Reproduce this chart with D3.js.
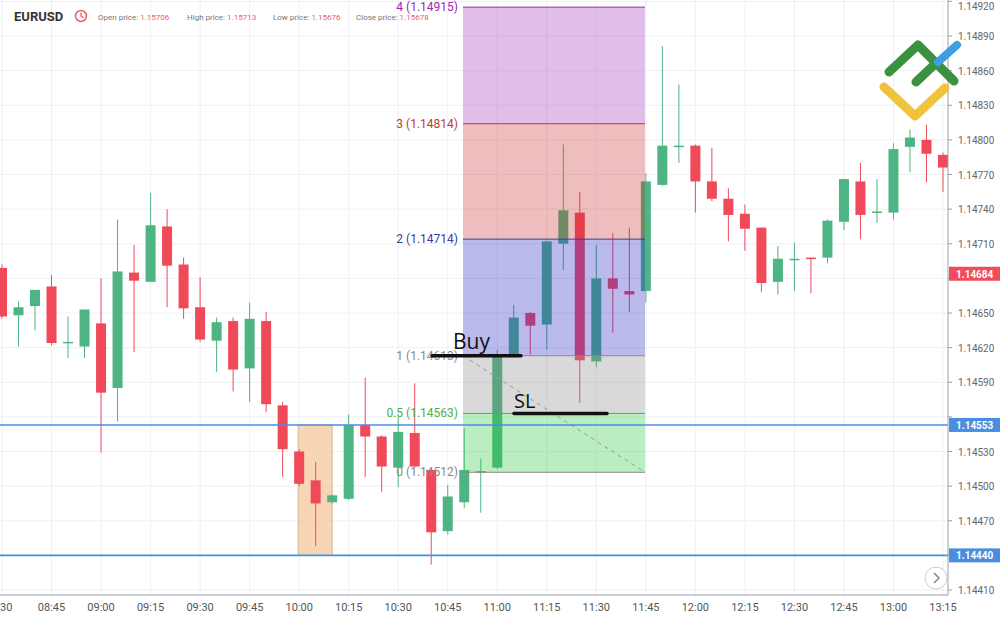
<!DOCTYPE html><html><head><meta charset="utf-8"><script src="https://cdn.jsdelivr.net/npm/d3@7"></script>
<style>body{margin:0;background:#fff}svg{font-family:Roboto,"Noto Sans",sans-serif}</style></head><body><svg id="c" width="1000" height="618"></svg>
<script>
// OHLC in 1e-5 units above 1.14 (i.e. 689 -> 1.14689); 5-minute candles from 08:30
const opens =[689,648,656,673,624,621,641,585,685,677,725,692,655,626,643,602,643,570,530,505,486,489,553,543,516,546,514,461,486,512,516,613,650,640,710,737,608,680,669,669,761,794,795,764,749,736,724,677,697,698,698,729,764,738,737,794,800,787];
const highs =[692,660,670,683,647,653,680,731,709,754,740,698,681,646,646,659,651,573,532,521,493,562,594,544,560,589,515,501,550,524,618,657,651,712,796,755,709,719,724,771,881,848,796,793,758,744,724,708,711,698,731,766,780,766,797,809,813,789];
const lows  =[645,621,635,622,611,611,529,556,616,677,655,645,625,599,582,573,564,508,500,448,485,488,508,495,499,516,432,458,481,477,515,613,614,618,687,572,603,633,651,659,760,780,737,747,712,704,668,666,669,667,693,722,714,728,731,772,763,755];
const closes=[647,655,670,624,625,653,581,686,678,726,691,654,627,642,601,645,571,532,502,485,492,553,543,517,547,517,460,491,514,513,612,646,639,712,739,609,680,671,666,764,795,795,764,749,735,723,676,697,697,697,730,766,735,738,792,802,788,776];
const yTicks=[1.14920,1.14890,1.14860,1.14830,1.14800,1.14770,1.14740,1.14710,1.14650,1.14620,1.14590,1.14530,1.14500,1.14470,1.14410];
const timeLabels=["30","08:45","09:00","09:15","09:30","09:45","10:00","10:15","10:30","10:45","11:00","11:15","11:30","11:45","12:00","12:15","12:30","12:45","13:00","13:15"];
const levels=[{k:"4",p:1.14915,c:"#9c27b0"},{k:"3",p:1.14814,c:"#c0392b"},{k:"2",p:1.14714,c:"#3b3b9a"},{k:"1",p:1.14613,c:"#888"},{k:"0.5",p:1.14563,c:"#4caf50"},{k:"0",p:1.14512,c:"#888"}];
const zoneFills=[{c:"#9c27b0",o:0.3},{c:"#c62828",o:0.3},{c:"#2828c8",o:0.32},{c:"#808080",o:0.3},{c:"#2ecc40",o:0.33}];
const hLines=[1.14553,1.14440];
const lastPrice=1.14684;

const svg=d3.select("#c");
const y=d3.scaleLinear().domain([1.14650,1.14890]).range([313,36]);
const x=d3.scaleLinear().domain([0,57]).range([2,943]);
const P=v=>1.14+v/1e5;
const axisX=948;
const gridTicks=yTicks.concat([1.14680,1.14560,1.14440]);
svg.append("g").selectAll("line").data(gridTicks).join("line").attr("x1",0).attr("x2",axisX).attr("y1",d=>y(d)).attr("y2",d=>y(d)).attr("stroke","#eef0f5");
svg.append("g").selectAll("line").data(timeLabels).join("line").attr("x1",(d,i)=>x(i*3)).attr("x2",(d,i)=>x(i*3)).attr("y1",0).attr("y2",595).attr("stroke","#eef0f5");
svg.append("rect").attr("x",x(18)-1).attr("width",x(20)-x(18)+1).attr("y",y(1.14553)).attr("height",y(1.14440)-y(1.14553)).attr("fill","#f6c89c").attr("opacity",0.75).attr("stroke","#c9a27a").attr("stroke-width",1);
const idx=d3.range(opens.length);
const g=svg.append("g");
idx.forEach(i=>{
  const up=closes[i]>=opens[i], col=up?"#4db483":"#f04a5a";
  g.append("line").attr("x1",x(i)).attr("x2",x(i)).attr("y1",y(P(highs[i]))).attr("y2",y(P(lows[i]))).attr("stroke",col).attr("stroke-width",1);
  const t=y(P(Math.max(opens[i],closes[i]))),b=y(P(Math.min(opens[i],closes[i])));
  g.append("rect").attr("x",x(i)-5).attr("width",10).attr("y",t).attr("height",Math.max(1.5,b-t)).attr("fill",col);
});
const zx0=463,zx1=645;
zoneFills.forEach((z,i)=>{
  svg.append("rect").attr("x",zx0).attr("width",zx1-zx0).attr("y",y(levels[i].p)).attr("height",y(levels[i+1].p)-y(levels[i].p)).attr("fill",z.c).attr("opacity",z.o);
});
levels.forEach(l=>{
  svg.append("line").attr("x1",zx0).attr("x2",zx1).attr("y1",y(l.p)).attr("y2",y(l.p)).attr("stroke",l.c).attr("stroke-width",1);
  svg.append("text").attr("x",458).attr("y",y(l.p)+4).attr("text-anchor","end").attr("font-size",12).attr("fill",l.c).text(`${l.k} (${l.p.toFixed(5)})`);
});
svg.append("line").attr("x1",zx0).attr("y1",y(1.14613)).attr("x2",zx1).attr("y2",y(1.14512)).attr("stroke","#999").attr("stroke-dasharray","4,4");
hLines.forEach(h=>{
  svg.append("line").attr("x1",0).attr("x2",axisX).attr("y1",y(h)).attr("y2",y(h)).attr("stroke","#4a8ee0").attr("stroke-width",1.6);
});
svg.append("line").attr("x1",432).attr("x2",521).attr("y1",y(1.14613)).attr("y2",y(1.14613)).attr("stroke","#111").attr("stroke-width",3.5).attr("stroke-linecap","round");
svg.append("text").attr("x",453).attr("y",y(1.14613)-7).attr("font-size",21).attr("font-family","Open Sans").attr("fill","#111").text("Buy");
svg.append("line").attr("x1",514).attr("x2",607).attr("y1",y(1.14563)).attr("y2",y(1.14563)).attr("stroke","#111").attr("stroke-width",3.5).attr("stroke-linecap","round");
svg.append("text").attr("x",514).attr("y",y(1.14563)-5).attr("font-size",20).attr("font-family","Open Sans").attr("fill","#111").text("SL");
svg.append("rect").attr("x",axisX).attr("y",0).attr("width",52).attr("height",618).attr("fill","#fff");
svg.append("line").attr("x1",axisX).attr("x2",axisX).attr("y1",0).attr("y2",595).attr("stroke","#9aa0aa");
svg.append("g").selectAll("text").data(yTicks).join("text").attr("x",958).attr("y",d=>Math.max(10,y(d)+4)).attr("font-size",10).attr("fill","#666").text(d=>d.toFixed(5));
svg.append("g").selectAll("line").data(gridTicks).join("line").attr("x1",axisX).attr("x2",axisX+4).attr("y1",d=>y(d)).attr("y2",d=>y(d)).attr("stroke","#9aa0aa");
function badge(v,col){
  svg.append("rect").attr("x",axisX+1).attr("y",y(v)-7).attr("width",52).attr("height",14).attr("fill",col);
  svg.append("text").attr("x",956).attr("y",y(v)+4).attr("font-size",10).attr("font-weight","bold").attr("fill","#fff").text(v.toFixed(5));
}
hLines.forEach(h=>badge(h,"#4a8ee0"));
badge(lastPrice,"#ef4d5c");
svg.append("line").attr("x1",0).attr("x2",axisX).attr("y1",595).attr("y2",595).attr("stroke","#9aa0aa");
svg.append("g").selectAll("text").data(timeLabels).join("text").attr("x",(d,i)=>i===0?0:x(i*3)).attr("y",611).attr("text-anchor",(d,i)=>i===0?"start":"middle").attr("font-size",11).attr("fill","#555").text(d=>d);
svg.append("text").attr("x",14).attr("y",21).attr("font-size",13).attr("font-weight","bold").attr("fill","#333").text("EURUSD");
svg.append("circle").attr("cx",81).attr("cy",16).attr("r",5.5).attr("fill","none").attr("stroke","#ef5b6a").attr("stroke-width",1.5);
svg.append("path").attr("d","M81,12.5V16L83.5,18").attr("fill","none").attr("stroke","#ef5b6a").attr("stroke-width",1.3);
const hdr=[["Open price: ","1.15706",98],["High price: ","1.15713",187],["Low price: ","1.15676",273],["Close price: ","1.15678",356]];
hdr.forEach(h=>{const t=svg.append("text").attr("x",h[2]).attr("y",20).attr("font-size",8).attr("fill","#777");t.append("tspan").text(h[0]);t.append("tspan").attr("fill","#ef5b6a").text(h[1]);});
svg.append("path").attr("d","M884,87L915,116L945,88").attr("fill","none").attr("stroke","#efc33b").attr("stroke-width",9).attr("stroke-linecap","round").attr("stroke-linejoin","round");
svg.append("path").attr("d","M889,72L918,45L954,81").attr("fill","none").attr("stroke","#3a9140").attr("stroke-width",9).attr("stroke-linecap","round").attr("stroke-linejoin","round");
svg.append("path").attr("d","M916,82L935,64").attr("fill","none").attr("stroke","#3a9140").attr("stroke-width",9).attr("stroke-linecap","round");
svg.append("path").attr("d","M938,62L957,45").attr("fill","none").attr("stroke","#3d9ee2").attr("stroke-width",8).attr("stroke-linecap","round");
svg.append("circle").attr("cx",936).attr("cy",578).attr("r",11).attr("fill","#fff").attr("stroke","#ccc");
svg.append("path").attr("d","M934,573L939,578L934,583").attr("fill","none").attr("stroke","#888").attr("stroke-width",1.5);
</script></body></html>
